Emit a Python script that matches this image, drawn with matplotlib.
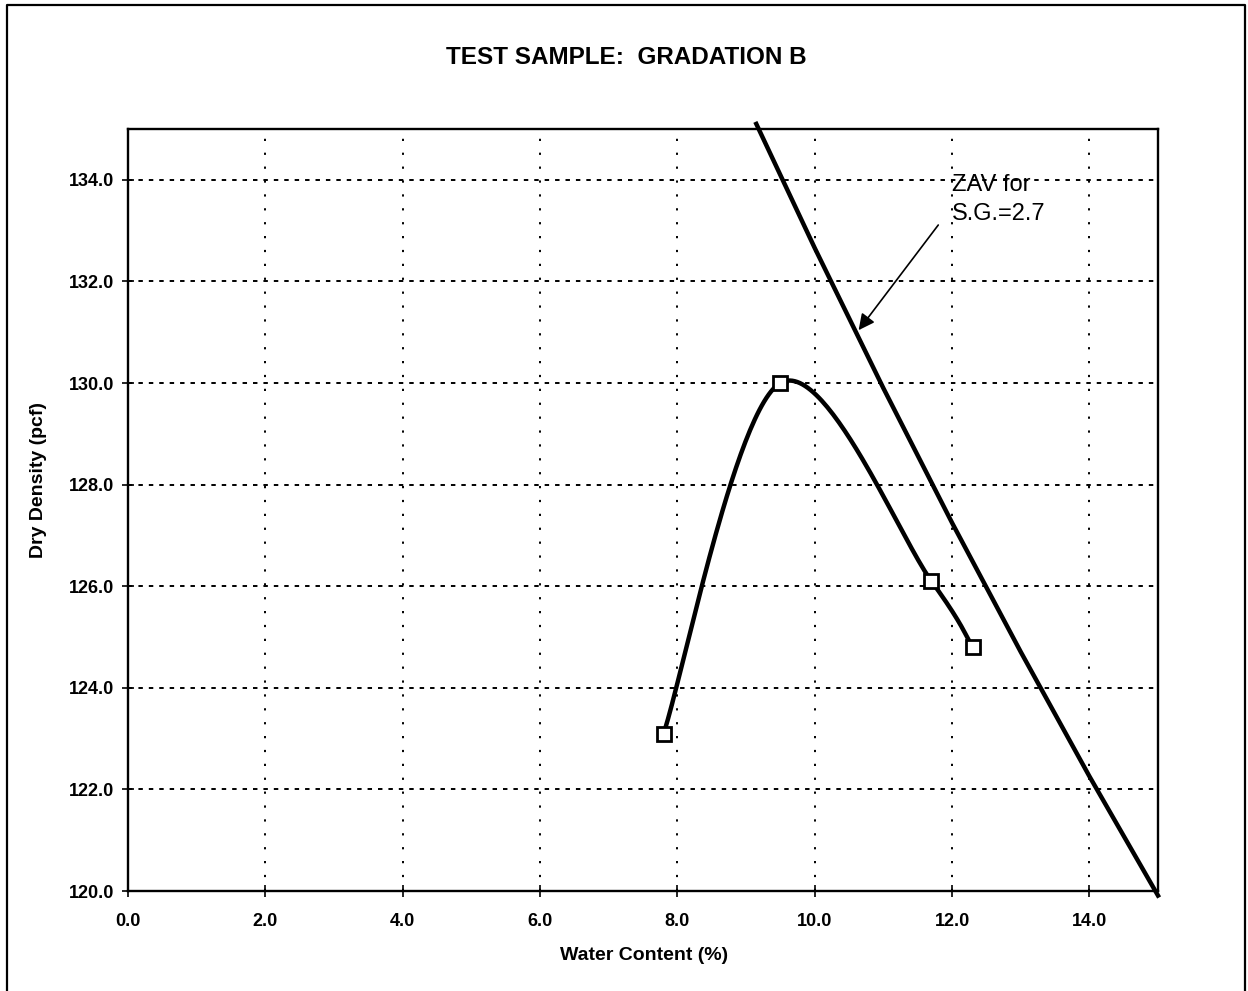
import numpy as np
import matplotlib
matplotlib.use("Agg")
import matplotlib.pyplot as plt
from matplotlib.lines import Line2D

# Compaction test results
water_content = [7.8, 9.5, 11.7, 12.3]
dry_density = [123.1, 130.0, 126.1, 124.8]

# Zero-air-voids curve, S.G. = 2.7
zav_water = [9.15, 10.0, 11.0, 12.0, 13.0, 14.0, 15.0]
zav_density = [135.10, 132.66, 129.90, 127.25, 124.71, 122.26, 119.91]

x_ticks = [0.0, 2.0, 4.0, 6.0, 8.0, 10.0, 12.0, 14.0]
y_ticks = [120.0, 122.0, 124.0, 126.0, 128.0, 130.0, 132.0, 134.0]

plt.rcParams['font.family'] = ['Liberation Sans', 'DejaVu Sans']
plt.rcParams['lines.scale_dashes'] = False

W, H = 1248, 991
fig = plt.figure(figsize=(W / 100, H / 100), dpi=100)
fig.patch.set_facecolor('white')
ax = fig.add_axes([128 / W, 1 - 891 / H, (1158 - 128) / W, (891 - 129) / H])

ax.set_xlim(0, 15)
ax.set_ylim(120, 135)

# Grid: dashed horizontals, dotted verticals
for y in y_ticks[1:]:
    ax.axhline(y, color='black', lw=1.4, dashes=(3.2, 4.3), zorder=1)
for x in x_ticks[1:]:
    ax.axvline(x, color='black', lw=1.4, dashes=(1.6, 8.4), zorder=1)

# Smoothed curve through the test points (Bezier in display space)
fig.canvas.draw()
pts = ax.transData.transform(np.column_stack([water_content, dry_density]))
n = len(pts)
curve = []
for i in range(n - 1):
    p0 = pts[max(i - 1, 0)]
    p1 = pts[i]
    p2 = pts[i + 1]
    p3 = pts[min(i + 2, n - 1)]
    c1 = p1 + (p2 - p0) / 6.0
    c2 = p2 - (p3 - p1) / 6.0
    t = np.linspace(0, 1, 60)[:, None]
    seg = ((1 - t) ** 3) * p1 + 3 * ((1 - t) ** 2) * t * c1 + 3 * (1 - t) * t ** 2 * c2 + t ** 3 * p2
    curve.append(seg if i == 0 else seg[1:])
curve = ax.transData.inverted().transform(np.vstack(curve))
ax.plot(curve[:, 0], curve[:, 1], color='black', lw=3.2, zorder=3,
        solid_capstyle='round', solid_joinstyle='round')
ax.plot(water_content, dry_density, linestyle='none', marker='s',
        markersize=10, markerfacecolor='white', markeredgecolor='black',
        markeredgewidth=2.0, zorder=4)

# ZAV line
ax.plot(zav_water, zav_density, color='black', lw=3.2, zorder=3, clip_on=False,
        solid_joinstyle='round')

# Annotation
ax.text(12.0, 133.62, "ZAV for\nS.G.=2.7", fontsize=17, ha='left', va='center',
        linespacing=1.4, zorder=5)
ax.annotate("", xy=(10.64, 131.04), xytext=(11.80, 133.11),
            arrowprops=dict(arrowstyle='-|>', color='black', lw=1.2,
                            mutation_scale=24, shrinkA=0, shrinkB=0), zorder=5)

# Axes styling
for s in ax.spines.values():
    s.set_linewidth(1.7)
    s.set_color('black')
    s.set_zorder(6)
ax.set_xticks(x_ticks)
ax.set_yticks(y_ticks)
ax.set_xticklabels([f"{v:.1f}" for v in x_ticks], fontsize=13, fontweight='bold')
ax.set_yticklabels([f"{v:.1f}" for v in y_ticks], fontsize=13, fontweight='bold')
ax.tick_params(direction='inout', length=8, width=1.2, color='black')
ax.tick_params(axis='x', pad=12)
ax.tick_params(axis='y', pad=6)

fig.text(626 / W, 1 - 57 / H, "TEST SAMPLE:  GRADATION B", fontsize=17.5,
         fontweight='bold', ha='center', va='center')
fig.text(644 / W, 1 - 955 / H, "Water Content (%)", fontsize=14,
         fontweight='bold', ha='center', va='center')
fig.text(39 / W, 1 - 480 / H, "Dry Density (pcf)", fontsize=14,
         fontweight='bold', ha='center', va='center', rotation=90)

# Outer frame (left, top, right edges)
frame_x = [7 / W, 7 / W, 1245 / W, 1245 / W]
frame_y = [-0.01, 1 - 5 / H, 1 - 5 / H, -0.01]
fig.add_artist(Line2D(frame_x, frame_y, transform=fig.transFigure,
                      color='black', lw=1.6))

fig.savefig("out.png", dpi=100, facecolor='white')
